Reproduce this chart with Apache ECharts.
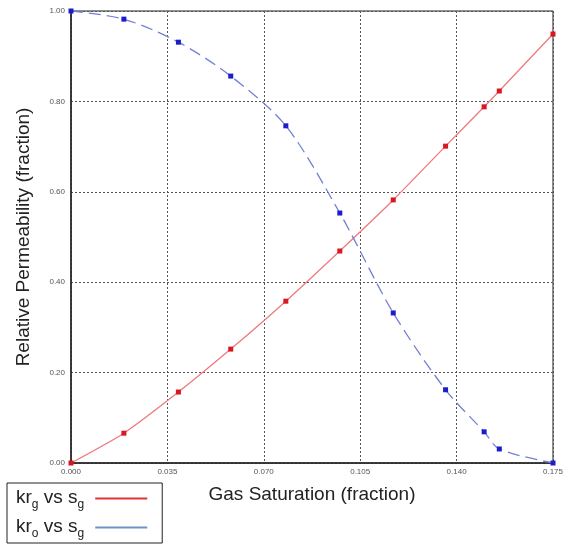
<!DOCTYPE html>
<html>
<head>
<meta charset="utf-8">
<script src="https://cdn.jsdelivr.net/npm/echarts@6/dist/echarts.min.js"></script>
<style>
  html, body { margin: 0; padding: 0; background: #fff; }
  #chart { width: 566px; height: 547px; }
</style>
</head>
<body>
<div id="chart"></div>
<script>
// gas saturation points (fraction)
var sg = [0, 0.0192, 0.039, 0.058, 0.078, 0.0976, 0.117, 0.136, 0.150, 0.1555, 0.175];
// relative permeability to gas
var krg = [0, 0.066, 0.157, 0.252, 0.358, 0.469, 0.582, 0.701, 0.788, 0.823, 0.949];
// relative permeability to oil
var kro = [1.0, 0.982, 0.931, 0.856, 0.746, 0.553, 0.332, 0.162, 0.069, 0.031, 0];
var xTicks = ['0.000', '0.035', '0.070', '0.105', '0.140', '0.175'];
var yTicks = ['0.00', '0.20', '0.40', '0.60', '0.80', '1.00'];

var pairs = function (xs, ys) {
    var out = [];
    for (var i = 0; i < xs.length; i++) {
        out.push([xs[i], ys[i]]);
    }
    return out;
};

var myChart = echarts.init(document.getElementById('chart'));
var option = {
    animation: false,
    textStyle: { fontFamily: 'Liberation Sans, Arial, sans-serif' },
    grid: {
        left: 71, right: 11, top: 11, bottom: 84,
        show: true, borderColor: '#222', borderWidth: 1
    },
    legend: {
        orient: 'vertical',
        left: 7,
        top: 483,
        height: 200,
        align: 'right',
        icon: 'rect',
        itemWidth: 52,
        itemHeight: 2,
        itemGap: 4,
        padding: [3, 15, 3, 9],
        borderColor: '#222',
        borderWidth: 1,
        data: [
            { name: 'krg', itemStyle: { color: '#d9363a' } },
            { name: 'kro', itemStyle: { color: '#6f93c4' } }
        ],
        formatter: function (name) {
            var sub = name === 'krg' ? 'g' : 'o';
            return '{a|kr}{s|' + sub + '}{a| vs s}{e|g}';
        },
        textStyle: {
            rich: {
                a: { fontSize: 19, color: '#222', lineHeight: 25, verticalAlign: 'top', padding: [2, 0, 0, 0] },
                s: { fontSize: 12, color: '#222', lineHeight: 25, verticalAlign: 'bottom' },
                e: { fontSize: 12, color: '#222', lineHeight: 25, verticalAlign: 'bottom', padding: [0, 6, 0, 0] }
            }
        }
    },
    xAxis: {
        type: 'value',
        min: 0,
        max: 0.175,
        interval: 0.035,
        name: 'Gas Saturation (fraction)',
        nameLocation: 'middle',
        nameGap: 22,
        nameTextStyle: { fontSize: 19, color: '#222' },
        axisLine: { lineStyle: { color: '#222', width: 1.5 } },
        axisTick: { show: false },
        axisLabel: {
            fontSize: 8, color: '#555', margin: 5,
            formatter: function (v) {
                var i = Math.round(v / 0.035);
                return xTicks[i];
            }
        },
        splitLine: { show: true, lineStyle: { color: '#555', type: [2, 2], width: 1 } }
    },
    yAxis: {
        type: 'value',
        min: 0,
        max: 1,
        interval: 0.2,
        name: 'Relative Permeability (fraction)',
        nameLocation: 'middle',
        nameGap: 38,
        nameTextStyle: { fontSize: 19, color: '#222' },
        axisLine: { show: true, lineStyle: { color: '#222', width: 1.5 } },
        axisTick: { show: false },
        axisLabel: {
            fontSize: 8, color: '#555', margin: 6,
            formatter: function (v) {
                var i = Math.round(v / 0.2);
                return yTicks[i];
            }
        },
        splitLine: { show: true, lineStyle: { color: '#555', type: [2, 2], width: 1 } }
    },
    series: [
        {
            name: 'krg',
            type: 'line',
            data: pairs(sg, krg),
            smooth: 0.2,
            symbol: 'rect',
            symbolSize: 5,
            itemStyle: { color: '#d9171e' },
            lineStyle: { color: '#ee7a7e', width: 1.3 }
        },
        {
            name: 'kro',
            type: 'line',
            data: pairs(sg, kro),
            smooth: 0.3,
            symbol: 'rect',
            symbolSize: 5,
            itemStyle: { color: '#1c1ccc' },
            lineStyle: { color: '#7480d4', width: 1.3, type: [12, 6] }
        }
    ]
};
myChart.setOption(option);
</script>
</body>
</html>
